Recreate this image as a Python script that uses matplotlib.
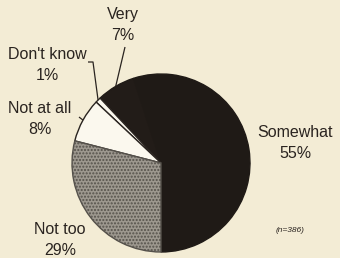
import numpy as np
import matplotlib.pyplot as plt

# Slice data, counter-clockwise from the bottom
categories = ["Somewhat", "Very", "Don't know", "Not at all", "Not too"]
shares = [55, 7, 1, 8, 29]
sample_note = "(n=386)"

BG = "#f3ecd5"
colors = ["#1f1a16", "#221c18", "#fbf8ee", "#fbf8ee", "#9d988f"]

# layout in pixel units (y measured from the bottom)
W, H = 340, 258
CX, CY, R = 161, 95, 89
label_pos = {
    "Somewhat": (295, 115),
    "Very": (123, 233),
    "Don't know": (47, 193),
    "Not at all": (40, 139),
    "Not too": (60, 18),
}
# label-side end of each leader line
leaders = {
    "Very": [(125, 211)],
    "Don't know": [(88, 196), (93, 196)],
    "Not at all": [(79, 141)],
}

fig = plt.figure(figsize=(W / 100, H / 100), dpi=100)
fig.patch.set_facecolor(BG)
ax = fig.add_axes([0, 0, 1, 1])
ax.set_facecolor(BG)

wedges, _ = ax.pie(
    shares,
    colors=colors,
    startangle=-90,
    counterclock=True,
    center=(CX, CY),
    radius=R,
    wedgeprops=dict(edgecolor="#2a2420", linewidth=1.0),
)
# dark slices have no visible seam between them
wedges[0].set_edgecolor(colors[0])
wedges[1].set_edgecolor(colors[0])
wedges[4].set_hatch(".....")
wedges[4].set_edgecolor("#55514b")

ax.set_xlim(0, W)
ax.set_ylim(0, H)
ax.set_aspect("equal")
ax.axis("off")

font = dict(family=["Liberation Sans", "DejaVu Sans"], fontsize=11.5, color="#2a2420")
for name, share in zip(categories, shares):
    x, y = label_pos[name]
    ax.text(x, y, f"{name}\n{share}%", ha="center", va="center",
            linespacing=1.45, **font)

for w, name in zip(wedges, categories):
    if name not in leaders:
        continue
    mid = np.deg2rad((w.theta1 + w.theta2) / 2)
    px, py = CX + R * np.cos(mid), CY + R * np.sin(mid)
    pts = [(px, py)] + leaders[name][::-1]
    ax.plot([p[0] for p in pts], [p[1] for p in pts], color="#2a2420",
            linewidth=0.9, solid_capstyle="butt")

ax.text(290, 28, sample_note, ha="center", va="center", fontsize=6,
        style="italic", family=["Liberation Sans", "DejaVu Sans"], color="#2a2420")

fig.savefig("out.png", dpi=100, facecolor=BG)
